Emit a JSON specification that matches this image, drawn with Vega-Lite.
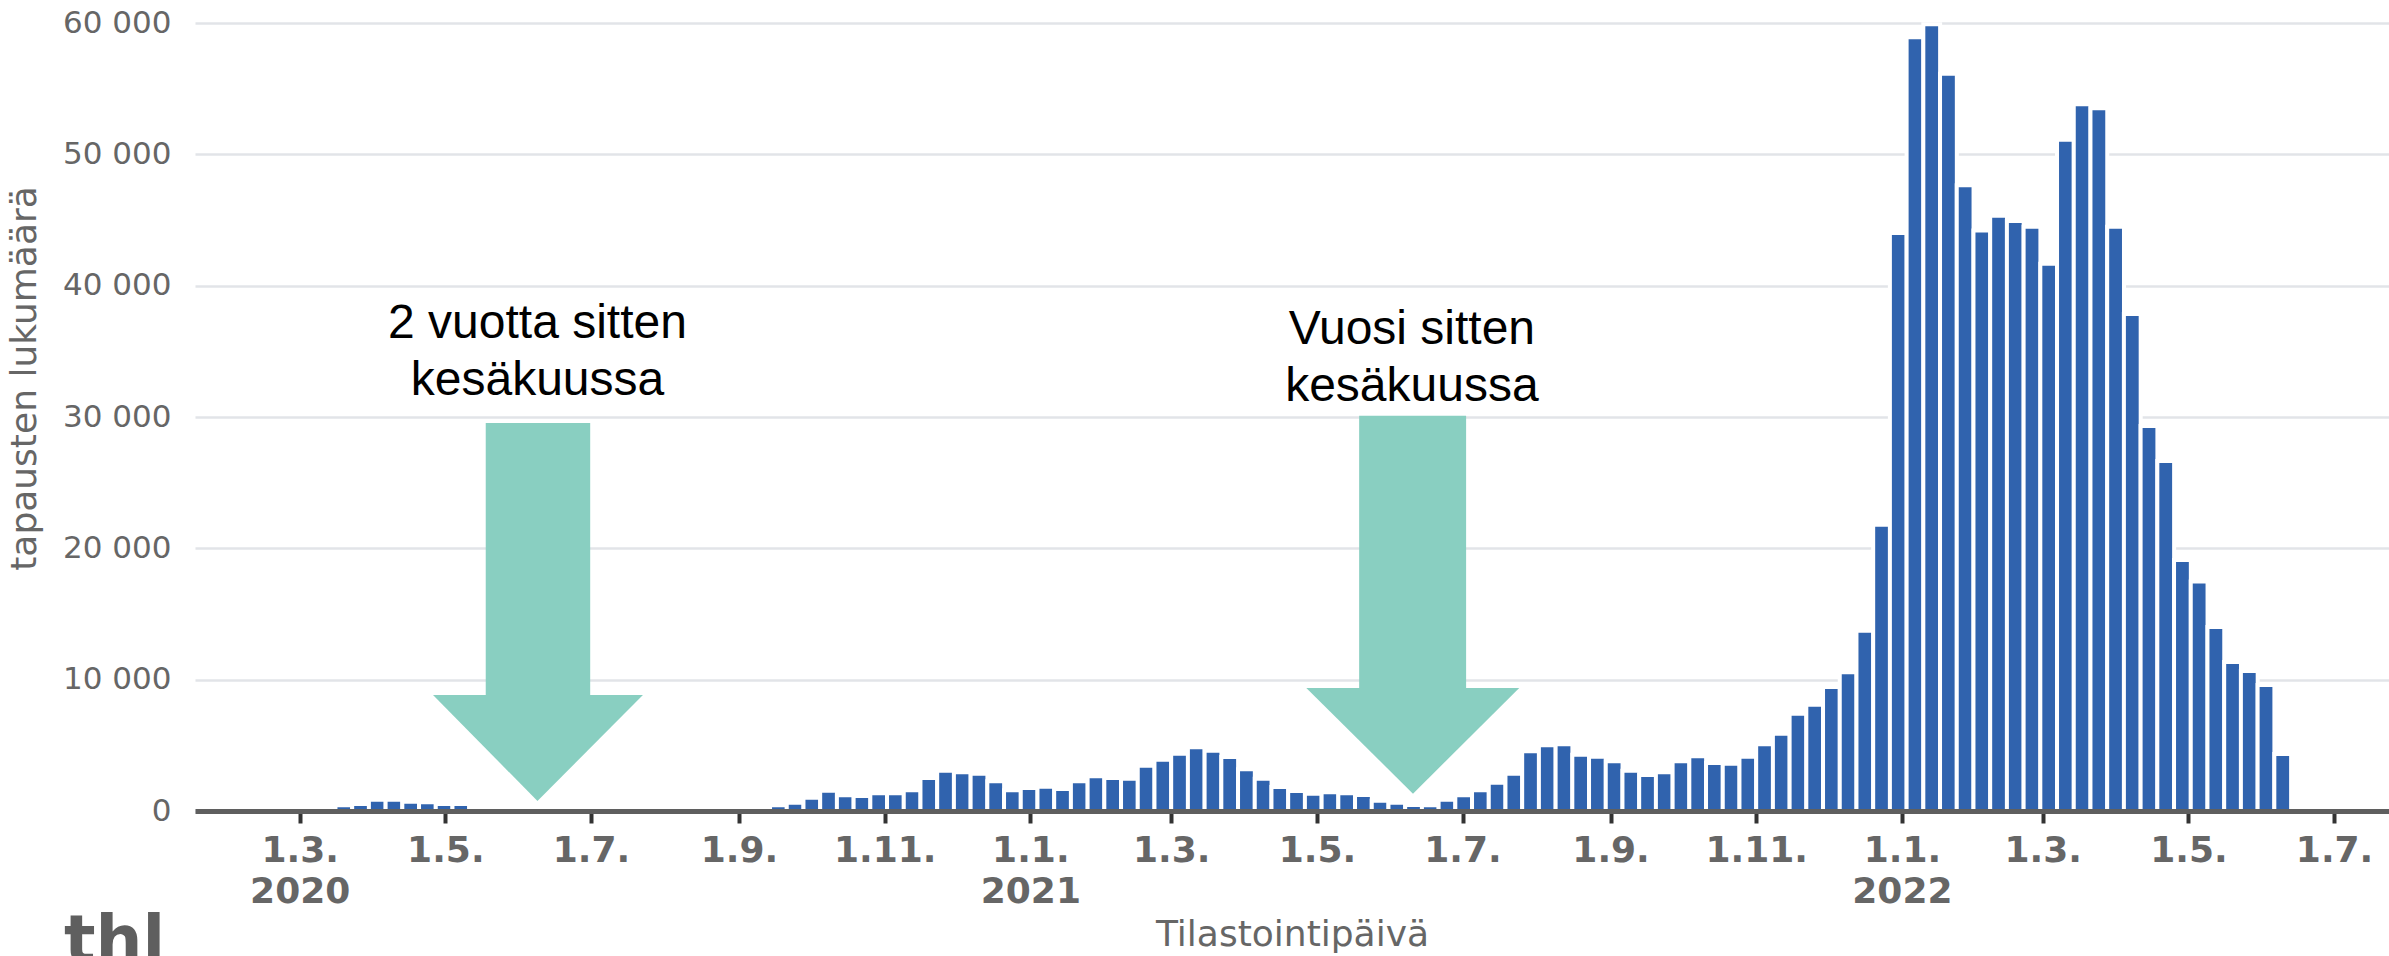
{
  "$schema": "https://vega.github.io/schema/vega-lite/v6.json",
  "width": 2194,
  "height": 788,
  "autosize": {"type": "none"},
  "padding": {"left": 195, "top": 23, "right": 0, "bottom": 145},
  "background": "white",
  "config": {
    "view": {"stroke": null},
    "font": "DejaVu Sans",
    "axis": {"labelFont": "DejaVu Sans", "titleFont": "DejaVu Sans"}
  },
  "title": {
    "text": "thl",
    "orient": "bottom",
    "anchor": "start",
    "frame": "group",
    "dx": -131,
    "offset": -42,
    "fontSize": 66,
    "fontWeight": "bold",
    "color": "#5f5f5f",
    "font": "DejaVu Sans",
    "baseline": "top"
  },
  "datasets": {
    "viikot": [
      {"viikko": "2020-02-27T12:00:00", "tapaukset": 10},
      {"viikko": "2020-03-05T12:00:00", "tapaukset": 50},
      {"viikko": "2020-03-12T12:00:00", "tapaukset": 150},
      {"viikko": "2020-03-19T12:00:00", "tapaukset": 430},
      {"viikko": "2020-03-26T12:00:00", "tapaukset": 530},
      {"viikko": "2020-04-02T12:00:00", "tapaukset": 860},
      {"viikko": "2020-04-09T12:00:00", "tapaukset": 860},
      {"viikko": "2020-04-16T12:00:00", "tapaukset": 710},
      {"viikko": "2020-04-23T12:00:00", "tapaukset": 660},
      {"viikko": "2020-04-30T12:00:00", "tapaukset": 530},
      {"viikko": "2020-05-07T12:00:00", "tapaukset": 530},
      {"viikko": "2020-05-14T12:00:00", "tapaukset": 240},
      {"viikko": "2020-05-21T12:00:00", "tapaukset": 200},
      {"viikko": "2020-05-28T12:00:00", "tapaukset": 180},
      {"viikko": "2020-06-04T12:00:00", "tapaukset": 150},
      {"viikko": "2020-06-11T12:00:00", "tapaukset": 100},
      {"viikko": "2020-06-18T12:00:00", "tapaukset": 80},
      {"viikko": "2020-06-25T12:00:00", "tapaukset": 60},
      {"viikko": "2020-07-02T12:00:00", "tapaukset": 50},
      {"viikko": "2020-07-09T12:00:00", "tapaukset": 50},
      {"viikko": "2020-07-16T12:00:00", "tapaukset": 40},
      {"viikko": "2020-07-23T12:00:00", "tapaukset": 60},
      {"viikko": "2020-07-30T12:00:00", "tapaukset": 100},
      {"viikko": "2020-08-06T12:00:00", "tapaukset": 150},
      {"viikko": "2020-08-13T12:00:00", "tapaukset": 180},
      {"viikko": "2020-08-20T12:00:00", "tapaukset": 200},
      {"viikko": "2020-08-27T12:00:00", "tapaukset": 180},
      {"viikko": "2020-09-03T12:00:00", "tapaukset": 220},
      {"viikko": "2020-09-10T12:00:00", "tapaukset": 240},
      {"viikko": "2020-09-17T12:00:00", "tapaukset": 430},
      {"viikko": "2020-09-24T12:00:00", "tapaukset": 630},
      {"viikko": "2020-10-01T12:00:00", "tapaukset": 1010},
      {"viikko": "2020-10-08T12:00:00", "tapaukset": 1550},
      {"viikko": "2020-10-15T12:00:00", "tapaukset": 1200},
      {"viikko": "2020-10-22T12:00:00", "tapaukset": 1140},
      {"viikko": "2020-10-29T12:00:00", "tapaukset": 1350},
      {"viikko": "2020-11-05T12:00:00", "tapaukset": 1350},
      {"viikko": "2020-11-12T12:00:00", "tapaukset": 1580},
      {"viikko": "2020-11-19T12:00:00", "tapaukset": 2510},
      {"viikko": "2020-11-26T12:00:00", "tapaukset": 3070},
      {"viikko": "2020-12-03T12:00:00", "tapaukset": 2950},
      {"viikko": "2020-12-10T12:00:00", "tapaukset": 2840},
      {"viikko": "2020-12-17T12:00:00", "tapaukset": 2260},
      {"viikko": "2020-12-24T12:00:00", "tapaukset": 1580},
      {"viikko": "2020-12-31T12:00:00", "tapaukset": 1750},
      {"viikko": "2021-01-07T12:00:00", "tapaukset": 1850},
      {"viikko": "2021-01-14T12:00:00", "tapaukset": 1680},
      {"viikko": "2021-01-21T12:00:00", "tapaukset": 2260},
      {"viikko": "2021-01-28T12:00:00", "tapaukset": 2640},
      {"viikko": "2021-02-04T12:00:00", "tapaukset": 2510},
      {"viikko": "2021-02-11T12:00:00", "tapaukset": 2460},
      {"viikko": "2021-02-18T12:00:00", "tapaukset": 3450},
      {"viikko": "2021-02-25T12:00:00", "tapaukset": 3910},
      {"viikko": "2021-03-04T12:00:00", "tapaukset": 4360},
      {"viikko": "2021-03-11T12:00:00", "tapaukset": 4850},
      {"viikko": "2021-03-18T12:00:00", "tapaukset": 4590},
      {"viikko": "2021-03-25T12:00:00", "tapaukset": 4110},
      {"viikko": "2021-04-01T12:00:00", "tapaukset": 3180},
      {"viikko": "2021-04-08T12:00:00", "tapaukset": 2460},
      {"viikko": "2021-04-15T12:00:00", "tapaukset": 1830},
      {"viikko": "2021-04-22T12:00:00", "tapaukset": 1520},
      {"viikko": "2021-04-29T12:00:00", "tapaukset": 1320},
      {"viikko": "2021-05-06T12:00:00", "tapaukset": 1420},
      {"viikko": "2021-05-13T12:00:00", "tapaukset": 1350},
      {"viikko": "2021-05-20T12:00:00", "tapaukset": 1220},
      {"viikko": "2021-05-27T12:00:00", "tapaukset": 780},
      {"viikko": "2021-06-03T12:00:00", "tapaukset": 630},
      {"viikko": "2021-06-10T12:00:00", "tapaukset": 460},
      {"viikko": "2021-06-17T12:00:00", "tapaukset": 430},
      {"viikko": "2021-06-24T12:00:00", "tapaukset": 860},
      {"viikko": "2021-07-01T12:00:00", "tapaukset": 1200},
      {"viikko": "2021-07-08T12:00:00", "tapaukset": 1580},
      {"viikko": "2021-07-15T12:00:00", "tapaukset": 2160},
      {"viikko": "2021-07-22T12:00:00", "tapaukset": 2840},
      {"viikko": "2021-07-29T12:00:00", "tapaukset": 4550},
      {"viikko": "2021-08-05T12:00:00", "tapaukset": 5000},
      {"viikko": "2021-08-12T12:00:00", "tapaukset": 5080},
      {"viikko": "2021-08-19T12:00:00", "tapaukset": 4290},
      {"viikko": "2021-08-26T12:00:00", "tapaukset": 4130},
      {"viikko": "2021-09-02T12:00:00", "tapaukset": 3780},
      {"viikko": "2021-09-09T12:00:00", "tapaukset": 3070},
      {"viikko": "2021-09-16T12:00:00", "tapaukset": 2740},
      {"viikko": "2021-09-23T12:00:00", "tapaukset": 2950},
      {"viikko": "2021-09-30T12:00:00", "tapaukset": 3780},
      {"viikko": "2021-10-07T12:00:00", "tapaukset": 4170},
      {"viikko": "2021-10-14T12:00:00", "tapaukset": 3660},
      {"viikko": "2021-10-21T12:00:00", "tapaukset": 3600},
      {"viikko": "2021-10-28T12:00:00", "tapaukset": 4130},
      {"viikko": "2021-11-04T12:00:00", "tapaukset": 5080},
      {"viikko": "2021-11-11T12:00:00", "tapaukset": 5890},
      {"viikko": "2021-11-18T12:00:00", "tapaukset": 7410},
      {"viikko": "2021-11-25T12:00:00", "tapaukset": 8090},
      {"viikko": "2021-12-02T12:00:00", "tapaukset": 9440},
      {"viikko": "2021-12-09T12:00:00", "tapaukset": 10560},
      {"viikko": "2021-12-16T12:00:00", "tapaukset": 13730},
      {"viikko": "2021-12-23T12:00:00", "tapaukset": 21800},
      {"viikko": "2021-12-30T12:00:00", "tapaukset": 44010},
      {"viikko": "2022-01-06T12:00:00", "tapaukset": 58910},
      {"viikko": "2022-01-13T12:00:00", "tapaukset": 59900},
      {"viikko": "2022-01-20T12:00:00", "tapaukset": 56140},
      {"viikko": "2022-01-27T12:00:00", "tapaukset": 47640},
      {"viikko": "2022-02-03T12:00:00", "tapaukset": 44210},
      {"viikko": "2022-02-10T12:00:00", "tapaukset": 45330},
      {"viikko": "2022-02-17T12:00:00", "tapaukset": 44920},
      {"viikko": "2022-02-24T12:00:00", "tapaukset": 44490},
      {"viikko": "2022-03-03T12:00:00", "tapaukset": 41670},
      {"viikko": "2022-03-10T12:00:00", "tapaukset": 51110},
      {"viikko": "2022-03-17T12:00:00", "tapaukset": 53810},
      {"viikko": "2022-03-24T12:00:00", "tapaukset": 53500},
      {"viikko": "2022-03-31T12:00:00", "tapaukset": 44490},
      {"viikko": "2022-04-07T12:00:00", "tapaukset": 37840},
      {"viikko": "2022-04-14T12:00:00", "tapaukset": 29310},
      {"viikko": "2022-04-21T12:00:00", "tapaukset": 26650},
      {"viikko": "2022-04-28T12:00:00", "tapaukset": 19110},
      {"viikko": "2022-05-05T12:00:00", "tapaukset": 17470},
      {"viikko": "2022-05-12T12:00:00", "tapaukset": 14010},
      {"viikko": "2022-05-19T12:00:00", "tapaukset": 11350},
      {"viikko": "2022-05-26T12:00:00", "tapaukset": 10660},
      {"viikko": "2022-06-02T12:00:00", "tapaukset": 9590},
      {"viikko": "2022-06-09T12:00:00", "tapaukset": 4340}
    ],
    "varret": [
      {"nuoli": 1, "alku": "2020-05-17T22:00:00", "loppu": "2020-06-30T16:00:00", "yla": 29540, "ala": 8000},
      {"nuoli": 2, "alku": "2021-05-18T17:00:00", "loppu": "2021-07-02T12:00:00", "yla": 30090, "ala": 8500}
    ],
    "karjet": [
      {"nuoli": 1, "x": "2020-04-25T20:00:00", "yla": 8832, "ala": 8832},
      {"nuoli": 1, "x": "2020-06-08T14:00:00", "yla": 8832, "ala": 761},
      {"nuoli": 1, "x": "2020-07-22T18:00:00", "yla": 8832, "ala": 8832},
      {"nuoli": 2, "x": "2021-04-26T14:00:00", "yla": 9365, "ala": 9365},
      {"nuoli": 2, "x": "2021-06-10T06:00:00", "yla": 9365, "ala": 1317},
      {"nuoli": 2, "x": "2021-07-24T18:00:00", "yla": 9365, "ala": 9365}
    ],
    "tekstit": [
      {"teksti": "2 vuotta sitten\nkesäkuussa", "x": "2020-06-08T14:00:00", "y": 36010},
      {"teksti": "Vuosi sitten\nkesäkuussa", "x": "2021-06-09T19:00:00", "y": 35560}
    ]
  },
  "layer": [
    {
      "data": {"name": "viikot"},
      "mark": {"type": "bar", "width": 16.8, "color": "#3063ae", "stroke": "white", "strokeWidth": 4},
      "encoding": {
        "x": {
          "field": "viikko",
          "type": "temporal",
          "scale": {
            "domain": [
              {"year": 2020, "month": 1, "date": 19, "hours": 6},
              {"year": 2022, "month": 7, "date": 21, "hours": 22}
            ]
          },
          "axis": {
            "orient": "bottom",
            "title": "Tilastointipäivä",
            "values": [
              {"year": 2020, "month": 3, "date": 1},
              {"year": 2020, "month": 5, "date": 1},
              {"year": 2020, "month": 7, "date": 1},
              {"year": 2020, "month": 9, "date": 1},
              {"year": 2020, "month": 11, "date": 1},
              {"year": 2021, "month": 1, "date": 1},
              {"year": 2021, "month": 3, "date": 1},
              {"year": 2021, "month": 5, "date": 1},
              {"year": 2021, "month": 7, "date": 1},
              {"year": 2021, "month": 9, "date": 1},
              {"year": 2021, "month": 11, "date": 1},
              {"year": 2022, "month": 1, "date": 1},
              {"year": 2022, "month": 3, "date": 1},
              {"year": 2022, "month": 5, "date": 1},
              {"year": 2022, "month": 7, "date": 1}
            ],
            "labelExpr": "month(datum.value) == 0 || (year(datum.value) == 2020 && month(datum.value) == 2) ? [timeFormat(datum.value, '%-d.%-m.'), timeFormat(datum.value, '%Y')] : timeFormat(datum.value, '%-d.%-m.')",
            "grid": false,
            "domainColor": "#5f5f5f",
            "domainWidth": 5,
            "tickColor": "#333333",
            "tickWidth": 4,
            "tickSize": 12,
            "labelFontSize": 36,
            "labelFontWeight": "bold",
            "labelColor": "#666666",
            "labelBaseline": "alphabetic",
            "labelPadding": 38,
            "labelLineHeight": 41,
            "labelOverlap": false,
            "labelFlush": false,
            "titleFontSize": 36,
            "titleFontWeight": "normal",
            "titleColor": "#666666",
            "titleX": 1097,
            "titleY": 134,
            "titleBaseline": "alphabetic",
            "titleAlign": "center",
            "zindex": 1
          }
        },
        "y": {
          "field": "tapaukset",
          "type": "quantitative",
          "scale": {"domain": [0, 60000], "nice": false},
          "axis": {
            "title": "tapausten lukumäärä",
            "values": [0, 10000, 20000, 30000, 40000, 50000, 60000],
            "labelExpr": "datum.value == 0 ? '0' : format(datum.value / 1000, 'd') + ' 000'",
            "grid": true,
            "gridColor": "#e2e4e8",
            "gridWidth": 2.5,
            "domain": false,
            "ticks": false,
            "tickSize": 0,
            "labelPadding": 24,
            "labelFontSize": 31,
            "labelColor": "#666666",
            "titleFontSize": 36,
            "titleFontWeight": "normal",
            "titleColor": "#666666",
            "titleAngle": 270,
            "titleX": -160,
            "titleY": 355,
            "titleBaseline": "alphabetic",
            "titleAlign": "center",
            "zindex": 0
          }
        }
      }
    },
    {
      "data": {"name": "varret"},
      "mark": {"type": "rect", "color": "#89cfc1"},
      "encoding": {
        "x": {"field": "alku", "type": "temporal"},
        "x2": {"field": "loppu"},
        "y": {"field": "yla", "type": "quantitative"},
        "y2": {"field": "ala"}
      }
    },
    {
      "data": {"name": "karjet"},
      "mark": {"type": "area", "color": "#89cfc1", "interpolate": "linear"},
      "encoding": {
        "x": {"field": "x", "type": "temporal"},
        "y": {"field": "yla", "type": "quantitative"},
        "y2": {"field": "ala"},
        "detail": {"field": "nuoli", "type": "nominal"}
      }
    },
    {
      "data": {"name": "tekstit"},
      "mark": {"type": "text", "font": "Liberation Sans", "fontSize": 48, "lineHeight": 57, "lineBreak": "\n", "align": "center", "baseline": "alphabetic", "color": "#000000"},
      "encoding": {
        "x": {"field": "x", "type": "temporal"},
        "y": {"field": "y", "type": "quantitative"},
        "text": {"field": "teksti", "type": "nominal"}
      }
    }
  ]
}
